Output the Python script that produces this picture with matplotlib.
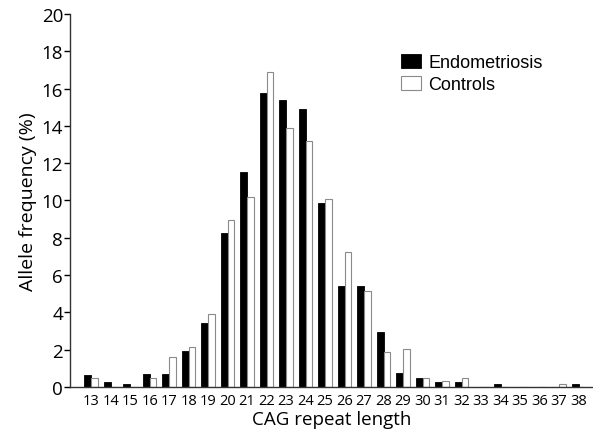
import matplotlib
matplotlib.use("agg")
import numpy as np
import matplotlib.pyplot as plt

plt.rcParams["font.family"] = ["Open Sans", "DejaVu Sans"]

cag_lengths = list(range(13, 39))
endometriosis = [0.63, 0.27, 0.16, 0.72, 0.72, 1.93, 3.44, 8.26, 11.52, 15.74,
                 15.40, 14.92, 9.88, 5.44, 5.44, 2.96, 0.73, 0.50, 0.27, 0.27,
                 0.0, 0.16, 0.0, 0.0, 0.0, 0.16]
controls = [0.47, 0.0, 0.0, 0.47, 1.60, 2.16, 3.89, 8.95, 10.21, 16.88,
            13.90, 13.18, 10.07, 7.24, 5.13, 1.87, 2.02, 0.46, 0.34, 0.48,
            0.0, 0.0, 0.0, 0.0, 0.18, 0.0]

fig = plt.figure(figsize=(5.93, 4.35), dpi=100)
ax = fig.add_axes([70 / 593, 1 - 388 / 435, 523 / 593, 373 / 435])

x = np.arange(len(cag_lengths))
w = 0.34
ax.bar(x - w / 2, endometriosis, w, color="black", edgecolor="black",
       linewidth=0.6, label="Endometriosis")
ax.bar(x + w / 2, controls, w, color="white", edgecolor="#8a8a8a",
       linewidth=0.8, label="Controls")

ax.set_xlim(-1.08, len(cag_lengths) - 1 + 0.74)
ax.set_ylim(0, 20)
ax.set_yticks(range(0, 21, 2))
ax.set_xticks(x)
ax.set_xticklabels([str(c) for c in cag_lengths], fontsize=10.5)
ax.tick_params(axis="x", length=0, pad=4)
ax.tick_params(axis="y", labelsize=13.5, length=4, width=1, direction="out", pad=1)

for s in ["top", "right"]:
    ax.spines[s].set_visible(False)
for s in ["left", "bottom"]:
    ax.spines[s].set_linewidth(1.0)
    ax.spines[s].set_color("#333333")

ax.set_xlabel("CAG repeat length", fontsize=13.5, labelpad=2)
ax.set_ylabel("Allele frequency (%)", fontsize=14, labelpad=3)

ax.legend(loc="upper left", bbox_to_anchor=(0.62, 0.912), frameon=False,
          prop={"family": "Liberation Sans", "size": 13},
          handlelength=1.1, handleheight=0.8,
          handletextpad=0.4, labelspacing=0.25, borderaxespad=0)

fig.savefig("out.png", dpi=100)
plt.close(fig)
